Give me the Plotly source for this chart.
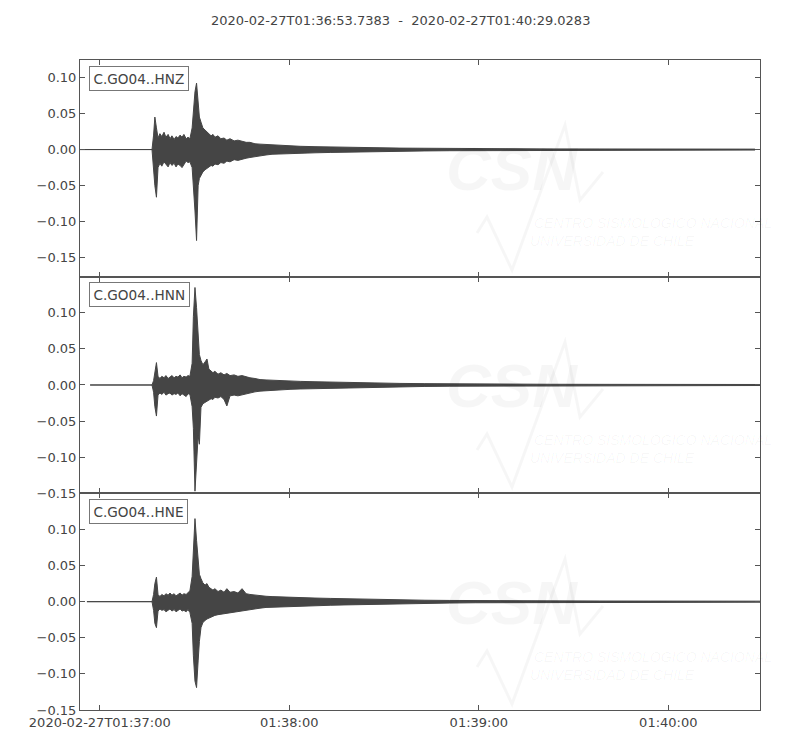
import pandas as pd
import plotly.graph_objects as go
from plotly.subplots import make_subplots

# ---------------- data ----------------
start_time = "2020-02-27T01:36:53.7383"
end_time = "2020-02-27T01:40:29.0283"
channels = ["C.GO04..HNZ", "C.GO04..HNN", "C.GO04..HNE"]

# per-channel first / last sample (seconds after start_time)
trace_start_s = [0.0, 3.2, 2.2]
trace_end_s = [213.7, 215.3, 215.3]

# envelope sampling times (seconds after start_time)
t_sec = [22.8, 23.3, 23.7, 24.2, 24.7, 25.3, 25.9, 26.6, 27.2, 27.9, 28.5,
         29.1, 29.8, 30.4, 31.0, 31.7, 32.3, 32.9, 33.6, 34.2, 34.8, 35.5,
         35.9, 36.4, 36.9, 37.4, 37.8, 38.3, 38.9, 39.6, 40.2, 40.8, 41.5,
         42.1, 42.7, 43.7, 44.6, 45.6, 46.5, 47.5, 48.8, 50.0, 51.3, 52.6,
         53.8, 55.4, 57.0, 58.9, 60.8, 63.3, 66.5, 69.7, 74.4, 79.2, 83.9,
         88.6, 94.9, 101.3, 109.2, 117.1, 125.1, 133.0, 148.8, 164.6, 180.5, 196.3]

hnz_max = [0, 0.020, 0.045, 0.030, 0.016, 0.022, 0.018, 0.024, 0.017, 0.021, 0.015,
           0.019, 0.014, 0.018, 0.016, 0.020, 0.017, 0.021, 0.015, 0.017, 0.015, 0.030,
           0.055, 0.080, 0.092, 0.062, 0.045, 0.038, 0.030, 0.027, 0.024, 0.022, 0.019,
           0.021, 0.017, 0.019, 0.015, 0.016, 0.013, 0.015, 0.012, 0.013, 0.011, 0.010,
           0.010, 0.008, 0.0075, 0.007, 0.006, 0.0055, 0.005, 0.0045, 0.004, 0.0035, 0.003,
           0.0028, 0.0024, 0.002, 0.0018, 0.0015, 0.0012, 0.001, 0.0009, 0.0008, 0.0007, 0.0006]
hnz_min = [0, -0.025, -0.050, -0.066, -0.025, -0.019, -0.023, -0.017, -0.021, -0.024, -0.018,
           -0.022, -0.019, -0.024, -0.020, -0.022, -0.025, -0.021, -0.016, -0.018, -0.017, -0.025,
           -0.050, -0.085, -0.126, -0.050, -0.040, -0.036, -0.031, -0.028, -0.026, -0.024, -0.022,
           -0.023, -0.020, -0.021, -0.018, -0.019, -0.016, -0.017, -0.014, -0.015, -0.013, -0.012,
           -0.011, -0.0095, -0.0085, -0.0075, -0.0065, -0.006, -0.0055, -0.005, -0.0045, -0.004, -0.0035,
           -0.003, -0.0026, -0.0022, -0.0019, -0.0016, -0.0013, -0.0011, -0.001, -0.0009, -0.0008, -0.0007]

hnn_max = [0, 0.006, 0.018, 0.031, 0.012, 0.009, 0.012, 0.010, 0.013, 0.009, 0.011,
           0.013, 0.010, 0.012, 0.011, 0.014, 0.010, 0.012, 0.011, 0.013, 0.012, 0.030,
           0.095, 0.135, 0.107, 0.060, 0.042, 0.034, 0.028, 0.032, 0.036, 0.022, 0.019,
           0.017, 0.019, 0.015, 0.017, 0.014, 0.016, 0.013, 0.014, 0.012, 0.013, 0.011,
           0.010, 0.009, 0.0075, 0.007, 0.0065, 0.006, 0.0055, 0.005, 0.0045, 0.004, 0.0035,
           0.003, 0.0026, 0.0022, 0.0019, 0.0016, 0.0013, 0.0011, 0.001, 0.0009, 0.0008, 0.0007]
hnn_min = [0, -0.010, -0.030, -0.043, -0.014, -0.011, -0.013, -0.010, -0.014, -0.012, -0.011,
           -0.014, -0.012, -0.013, -0.011, -0.015, -0.012, -0.014, -0.016, -0.012, -0.013, -0.030,
           -0.060, -0.147, -0.115, -0.070, -0.082, -0.031, -0.026, -0.024, -0.022, -0.021, -0.019,
           -0.020, -0.017, -0.018, -0.016, -0.020, -0.029, -0.015, -0.014, -0.015, -0.013, -0.012,
           -0.011, -0.0095, -0.0085, -0.0075, -0.007, -0.0065, -0.006, -0.0055, -0.005, -0.0045, -0.004,
           -0.0035, -0.003, -0.0025, -0.002, -0.0017, -0.0014, -0.0012, -0.001, -0.0009, -0.0008, -0.0007]

hne_max = [0, 0.010, 0.025, 0.034, 0.010, 0.007, 0.010, 0.008, 0.011, 0.009, 0.012,
           0.009, 0.011, 0.008, 0.010, 0.012, 0.009, 0.011, 0.010, 0.012, 0.015, 0.035,
           0.075, 0.115, 0.085, 0.050, 0.038, 0.032, 0.026, 0.023, 0.025, 0.020, 0.018,
           0.016, 0.018, 0.014, 0.016, 0.013, 0.018, 0.013, 0.014, 0.012, 0.018, 0.011,
           0.010, 0.009, 0.008, 0.0075, 0.007, 0.0065, 0.006, 0.0055, 0.005, 0.0045, 0.004,
           0.0035, 0.003, 0.0025, 0.002, 0.0017, 0.0014, 0.0012, 0.001, 0.0009, 0.0008, 0.0007]
hne_min = [0, -0.012, -0.030, -0.036, -0.013, -0.010, -0.012, -0.011, -0.014, -0.012, -0.010,
           -0.013, -0.011, -0.014, -0.012, -0.010, -0.013, -0.012, -0.014, -0.011, -0.015, -0.030,
           -0.075, -0.110, -0.119, -0.082, -0.055, -0.036, -0.029, -0.026, -0.024, -0.023, -0.021,
           -0.020, -0.019, -0.018, -0.017, -0.016, -0.016, -0.015, -0.014, -0.014, -0.013, -0.012,
           -0.011, -0.010, -0.009, -0.008, -0.0075, -0.007, -0.0065, -0.006, -0.0055, -0.005, -0.0045,
           -0.004, -0.0034, -0.0028, -0.0023, -0.0019, -0.0015, -0.0012, -0.001, -0.0009, -0.0008, -0.0007]

y_ranges = [[-0.176, 0.124], [-0.15, 0.15], [-0.15, 0.15]]
y_tickvals = [-0.15, -0.10, -0.05, 0.0, 0.05, 0.10]
y_ticktext = ["\u22120.15", "\u22120.10", "\u22120.05", "0.00", "0.05", "0.10"]
x_tickvals = ["2020-02-27 01:37:00", "2020-02-27 01:38:00", "2020-02-27 01:39:00", "2020-02-27 01:40:00"]
x_ticktext = ["2020-02-27T01:37:00", "01:38:00", "01:39:00", "01:40:00"]

# ---------------- figure ----------------
t0 = pd.Timestamp(start_time)
t_end = pd.Timestamp(end_time)


def to_dt(secs):
    return [(t0 + pd.Timedelta(seconds=s)).strftime("%Y-%m-%d %H:%M:%S.%f") for s in secs]


maxs = [hnz_max, hnn_max, hne_max]
mins = [hnz_min, hnn_min, hne_min]

fig = make_subplots(rows=3, cols=1, shared_xaxes=True, vertical_spacing=0)

WAVE = "#454545"
AX = "#555555"
TXT = "#444444"
FONT = "DejaVu Sans"

for i in range(3):
    ts = [trace_start_s[i]] + t_sec + [trace_end_s[i]]
    up = [0.0] + maxs[i] + [maxs[i][-1]]
    lo = [0.0] + mins[i] + [mins[i][-1]]
    xs = to_dt(ts)
    fig.add_trace(go.Scatter(
        x=xs + xs[::-1], y=up + lo[::-1], mode="lines", fill="toself",
        fillcolor=WAVE, line=dict(color=WAVE, width=1), hoverinfo="skip",
        showlegend=False), row=i + 1, col=1)

for i in range(3):
    fig.update_yaxes(range=y_ranges[i], tickvals=y_tickvals, ticktext=y_ticktext,
                     row=i + 1, col=1)
    fig.update_xaxes(range=[t0.strftime("%Y-%m-%d %H:%M:%S.%f"), t_end.strftime("%Y-%m-%d %H:%M:%S.%f")],
                     tickvals=x_tickvals, ticktext=x_ticktext, row=i + 1, col=1,
                     showticklabels=(i == 2))

fig.update_xaxes(type="date", showline=True, linecolor=AX, linewidth=1, mirror="ticks",
                 ticks="inside", ticklen=5, tickcolor=AX, showgrid=False, zeroline=False,
                 tickfont=dict(size=13, color=TXT, family=FONT))
fig.update_yaxes(showline=True, linecolor=AX, linewidth=1, mirror="ticks",
                 ticks="inside", ticklen=5, tickcolor=AX, showgrid=False, zeroline=False,
                 tickfont=dict(size=13, color=TXT, family=FONT))

# the page body adds an 8 px offset, so the figure is placed 8 px up/left
OFF = 8
W, H = 800 - OFF, 750 - OFF
L, R, T, B = 80 - OFF, 40, 60 - OFF, 40
PW = W - L - R
PH = H - T - B


def px(x):
    return (x - OFF - L) / PW


def py(y):
    return (H - B - (y - OFF)) / PH


annotations = []
for i, name in enumerate(channels):
    yref = "y domain" if i == 0 else f"y{i + 1} domain"
    xref = "x domain" if i == 0 else f"x{i + 1} domain"
    annotations.append(dict(text=name, xref=xref, yref=yref, x=0.013, y=0.974,
                            xanchor="left", yanchor="top", showarrow=False,
                            font=dict(size=13.6, color=TXT, family=FONT),
                            bgcolor="white", bordercolor="#777777", borderwidth=1, borderpad=3.5))

annotations.append(dict(text="2020-02-27T01:36:53.7383  -  2020-02-27T01:40:29.0283",
                        xref="paper", yref="paper", x=px(400), y=py(20),
                        xanchor="center", yanchor="middle", showarrow=False,
                        font=dict(size=13, color=TXT, family=FONT)))

# faint CSN watermark in each panel
wm = "rgba(0,0,0,0.035)"
shapes = []
for k in range(3):
    dy = k * 217
    annotations.append(dict(text="<b><i>CSN</i></b>", xref="paper", yref="paper",
                            x=px(512), y=py(168 + dy), xanchor="center", yanchor="middle",
                            showarrow=False, font=dict(size=62, color=wm, family="Liberation Sans")))
    annotations.append(dict(text="<i>CENTRO SISMOLÓGICO NACIONAL</i>", xref="paper", yref="paper",
                            x=px(532), y=py(223 + dy), xanchor="left", yanchor="middle",
                            showarrow=False,
                            font=dict(size=14, color=wm, family="Liberation Sans Narrow, Liberation Sans")))
    annotations.append(dict(text="<i>UNIVERSIDAD DE CHILE</i>", xref="paper", yref="paper",
                            x=px(528), y=py(241 + dy), xanchor="left", yanchor="middle",
                            showarrow=False,
                            font=dict(size=14, color=wm, family="Liberation Sans Narrow, Liberation Sans")))
    pts = [(477, 233), (487, 217), (512, 270), (565, 125), (580, 200), (603, 172)]
    path = "M " + " L ".join(f"{px(a)},{py(b + dy)}" for a, b in pts)
    shapes.append(dict(type="path", path=path, xref="paper", yref="paper",
                       line=dict(color=wm, width=3), layer="below"))

fig.update_layout(width=W, height=H, margin=dict(l=L, r=R, t=T, b=B),
                  plot_bgcolor="white", paper_bgcolor="white",
                  annotations=annotations, shapes=shapes,
                  font=dict(family=FONT, color=TXT))

fig.write_html("out.html")
